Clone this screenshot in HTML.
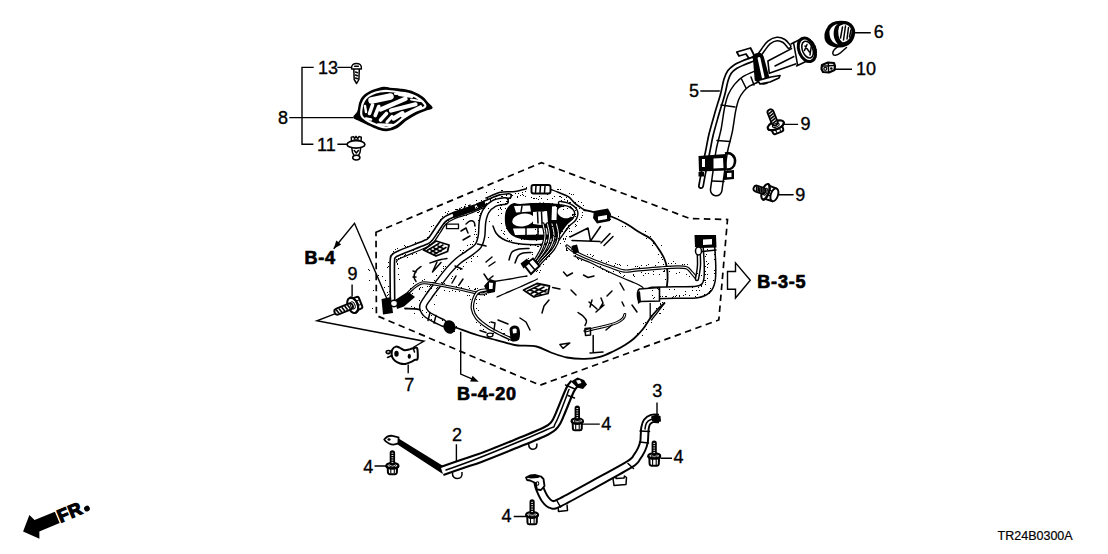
<!DOCTYPE html>
<html><head><meta charset="utf-8"><style>
html,body{margin:0;padding:0;background:#fff;width:1108px;height:554px;overflow:hidden}
svg{display:block}
.n{font:18px "Liberation Sans",sans-serif;fill:#000;stroke:#000;stroke-width:0.35}
.b{font:bold 18px "Liberation Sans",sans-serif;fill:#000;stroke:#000;stroke-width:0.7;letter-spacing:0.8px}
.s{font:12.5px "Liberation Sans",sans-serif;fill:#000;stroke:#000;stroke-width:0.2}
.fr{font:bold 18px "Liberation Sans",sans-serif;fill:#000;stroke:#000;stroke-width:1.3;letter-spacing:0.6px}
.l{fill:none;stroke:#000;stroke-width:1.4}
.d{fill:none;stroke:#000;stroke-width:1.7;stroke-dasharray:6.5 4.5}
.o{fill:none;stroke:#000;stroke-width:1.5;stroke-linejoin:round;stroke-linecap:round}
</style></head><body>
<svg width="1108" height="554" viewBox="0 0 1108 554">
<text x="318" y="73.5" class="n">13</text>
<text x="278" y="124" class="n">8</text>
<text x="317" y="150.5" class="n">11</text>
<text x="689" y="96.5" class="n">5</text>
<text x="873.7" y="38.2" class="n">6</text>
<text x="856" y="75" class="n">10</text>
<text x="800.5" y="130.2" class="n">9</text>
<text x="795.2" y="201.2" class="n">9</text>
<text x="347.6" y="279.5" class="n">9</text>
<text x="404.2" y="391.2" class="n">7</text>
<text x="652.3" y="396.7" class="n">3</text>
<text x="452" y="440.6" class="n">2</text>
<text x="601.2" y="429.9" class="n">4</text>
<text x="363.2" y="472.5" class="n">4</text>
<text x="673.4" y="463.1" class="n">4</text>
<text x="501.6" y="522.3" class="n">4</text>
<text x="304.5" y="263.6" class="b">B-4</text>
<text x="757.3" y="287.5" class="b">B-3-5</text>
<text x="457.1" y="399.7" class="b">B-4-20</text>
<text x="997.6" y="540.4" class="s">TR24B0300A</text>
<path d="M313.7,67.4 H302 V144.3 H313.4 M289.3,117.6 H353.3 M337.3,67.4 H351.4 M337.4,144.3 H347.4 M853.5,32.7 H870.8 M834,69.2 H852 M700.3,91 H719.8 M782.7,124.4 H798.1 M778.7,194.8 H793.6 M352.1,284.4 V296.3 M333.7,248.7 L354.5,223.3 L390,306 M334.8,313.8 L316.9,320.8 L424,341.2 L413.1,347.5 M408.2,364.4 V373.3 M460.7,331.7 V374.1 L476,380.6 M456.4,444.3 V463.8 M657,402.4 V415.4 M374.5,466 H387.5 M581,424.1 H599.8 M660.4,458.2 H672 M513.7,516.5 H526.1" class="l"/>
<path d="M333.7,248.7 L336.3,240.5 L341.2,244.5 Z" fill="#000"/>
<path d="M478.7,381.8 L470.1,381.6 L472.6,375.7 Z" fill="#000"/>
<path d="M376,232.2 L541.5,162.7 L689.8,218.5 L727.5,219.5 L718.8,320 L540,385.2 L376.4,315.5 Z" class="d"/>
<path d="M727.5,271.5 H735.5 V262.8 L750.3,280.3 L735.5,298 V289.3 H727.5 Z" fill="#fff" stroke="#000" stroke-width="1.4" stroke-linejoin="miter"/>
<g transform="translate(23.1,531.6) rotate(-22.6)"><path d="M0,0 L12.2,-13 L15,-6.2 L37,-6.2 L37,6.2 L15,6.2 L12.3,12.9 Z" fill="#000"/><text x="38" y="6.3" class="fr">FR</text><circle cx="67.8" cy="3.3" r="2.9" fill="#000"/></g>
<path d="M353.9,117.2 C353.9,115.9 356.9,114.2 357.9,111.8 C358.9,109.4 359.1,105.3 359.9,102.8 C360.7,100.3 361.2,98.7 362.9,96.9 C364.5,95.1 367.3,93.2 369.8,91.9 C372.3,90.6 375.5,89.7 377.8,88.9 C380.1,88.2 381.7,87.5 383.7,87.4 C385.7,87.3 386.9,88.1 389.7,88.4 C392.5,88.7 396.8,88.8 400.6,89.4 C404.4,90.0 408.9,90.6 412.5,91.9 C416.1,93.2 420.0,95.6 422.5,97.4 C425.0,99.2 425.8,101.1 427.4,102.8 C429.0,104.5 432.1,106.6 431.9,107.8 C431.7,109.0 429.0,108.8 426.4,109.8 C423.8,110.8 419.8,112.1 416.5,113.8 C413.2,115.5 409.9,117.4 406.6,119.7 C403.3,122.0 399.9,125.9 396.6,127.7 C393.3,129.5 389.8,130.4 386.7,130.6 C383.6,130.8 381.1,129.8 377.8,128.7 C374.5,127.5 370.1,125.2 366.8,123.7 C363.5,122.2 360.0,120.8 357.9,119.7 C355.8,118.6 353.9,118.5 353.9,117.2 Z" fill="#000" stroke="#000" stroke-width="1.5" stroke-linejoin="round"/>
<path d="M361.5,115.5 C360.6,112.7 361.8,106.9 362.5,104.0 C363.2,101.1 364.4,99.7 366.0,98.0 C367.6,96.3 369.7,95.1 372.0,94.0 C374.3,92.9 377.3,92.0 380.0,91.5 C382.7,91.0 384.7,90.8 388.0,91.0 C391.3,91.2 396.0,91.8 400.0,92.5 C404.0,93.2 408.7,93.8 412.0,95.0 C415.3,96.2 417.8,97.9 420.0,99.5 C422.2,101.1 424.3,103.2 425.0,104.5 C425.7,105.8 425.8,106.3 424.0,107.5 C422.2,108.7 417.3,109.8 414.0,111.5 C410.7,113.2 407.2,115.3 404.0,117.5 C400.8,119.7 397.9,122.8 395.0,124.5 C392.1,126.2 389.3,127.3 386.5,127.5 C383.7,127.7 381.1,126.6 378.0,125.5 C374.9,124.4 370.8,122.7 368.0,121.0 C365.2,119.3 362.4,118.3 361.5,115.5 Z" fill="none" stroke="#fff" stroke-width="2.2"/>
<path d="M371.5,100.5 L390.5,96.5" fill="none" stroke="#fff" stroke-width="6.5" stroke-linecap="round"/>
<path d="M380.5,109.5 L405.5,98.8" fill="none" stroke="#fff" stroke-width="4.4" stroke-linecap="round"/>
<path d="M391,110.5 L415.5,104.3" fill="none" stroke="#fff" stroke-width="4.2" stroke-linecap="round"/>
<path d="M393.5,118.5 L402.5,113.2" fill="none" stroke="#fff" stroke-width="4.4" stroke-linecap="round"/>
<path d="M402.5,116 L420.5,107" fill="none" stroke="#fff" stroke-width="3.6" stroke-linecap="round"/>
<path d="M369.5,113.5 L372.5,105" fill="none" stroke="#fff" stroke-width="3.6" stroke-linecap="round"/>
<path d="M375.2,115.5 L378.8,106.5" fill="none" stroke="#fff" stroke-width="3.6" stroke-linecap="round"/>
<path d="M380.5,120 L386.5,113.5" fill="none" stroke="#fff" stroke-width="3.6" stroke-linecap="round"/>
<path d="M387,122 L392,116.5" fill="none" stroke="#fff" stroke-width="3.2" stroke-linecap="round"/>
<path d="M366,118.5 L371,119.5" fill="none" stroke="#fff" stroke-width="2.6" stroke-linecap="round"/>
<path d="M399,94.5 L412,96.5" fill="none" stroke="#fff" stroke-width="2.8" stroke-linecap="round"/>
<path d="M378,124.5 L392,125" fill="none" stroke="#fff" stroke-width="2.4" stroke-linecap="round"/>
<path d="M395,93.8 L405,93.3" fill="none" stroke="#fff" stroke-width="2.2" stroke-linecap="round"/>
<path d="M365,106 L366,112" fill="none" stroke="#fff" stroke-width="2.4" stroke-linecap="round"/>
<path d="M411,99.5 L420,101" fill="none" stroke="#fff" stroke-width="2" stroke-linecap="round"/>
<path d="M351.6,69 C351,64.5 354,63.4 356.5,63.4 C359,63.4 362,64.5 361.4,69 Z" class="o" stroke-width="1.6" fill="#fff"/>
<path d="M354.6,66.3 L358.3,66.3" class="o" stroke-width="1.2"/>
<path d="M353.8,69.5 L354.2,79.5 L356.6,83.5 L358.9,79.5 L359.3,69.5" class="o" stroke-width="1.5"/>
<path d="M355.5,72 L357.5,72.8 M355.5,75 L357.5,75.8 M355.5,78 L357.5,78.8" class="o" stroke-width="1"/>
<path d="M351.5,141.5 L351.3,137.2 L353.5,136.6 L354.6,138.5 L356,136.4 L357.7,138.5 L359,136.6 L361.3,137.2 L361,141.5" class="o" stroke-width="1.6"/>
<ellipse cx="356" cy="144.4" rx="8.9" ry="3.7" fill="#fff" stroke="#000" stroke-width="1.7"/>
<path d="M351.8,148 L352.5,152.5 L354,155.5 L358.5,155.5 L360,152.5 L360.7,148" class="o" stroke-width="1.5"/>
<path d="M354.2,150.5 L356.3,153 L358.4,150.5" class="o" stroke-width="1.2"/>
<ellipse cx="356.3" cy="157.6" rx="3.6" ry="2.4" fill="#fff" stroke="#000" stroke-width="1.5"/>
<path d="M354,140 L358.6,140" class="o" stroke-width="1.1"/>
<g transform="translate(775.8,125.3) rotate(-22)"><path d="M-5.75,0 L-5.45,6.5 Q-5.25,8 -3.75,8 L3.75,8 Q5.25,8 5.45,6.5 L5.75,0 Z" fill="#fff" stroke="#000" stroke-width="2" stroke-linejoin="round"/><path d="M-1.9,3.2 V7.2 M2.3,3.2 V7.2" stroke="#000" stroke-width="1.1" fill="none"/><ellipse cx="0" cy="0" rx="8.6" ry="4" fill="#fff" stroke="#000" stroke-width="2.1"/><rect x="-3.0" y="-17" width="6" height="17" rx="3.0" fill="#fff" stroke="#000" stroke-width="1.9"/><path d="M-2.2,-13.2 L2.2,-14.6" stroke="#000" stroke-width="1.6"/><path d="M-2.2,-10.6 L2.2,-12.0" stroke="#000" stroke-width="1.6"/><path d="M-2.2,-8.0 L2.2,-9.4" stroke="#000" stroke-width="1.6"/><path d="M-2.2,-5.4 L2.2,-6.8" stroke="#000" stroke-width="1.6"/><path d="M-2.2,-2.8 L2.2,-4.2" stroke="#000" stroke-width="1.6"/><path d="M-8.6,0 A8.6,4 0 0 0 8.6,0" fill="none" stroke="#000" stroke-width="2.1"/><ellipse cx="0" cy="0" rx="3.6" ry="1.8" fill="none" stroke="#000" stroke-width="1"/></g>
<g transform="translate(765.5,191.8) rotate(-71)"><path d="M-7.0,0 L-6.7,9.0 Q-6.5,10.5 -5.0,10.5 L5.0,10.5 Q6.5,10.5 6.7,9.0 L7.0,0 Z" fill="#fff" stroke="#000" stroke-width="2" stroke-linejoin="round"/><path d="M-2.3,2.7 V9.7 M2.8,2.7 V9.7" stroke="#000" stroke-width="1.1" fill="none"/><ellipse cx="0" cy="0" rx="8.2" ry="3.4" fill="#fff" stroke="#000" stroke-width="2.1"/><rect x="-3.1" y="-12.5" width="6.2" height="12.5" rx="3.1" fill="#fff" stroke="#000" stroke-width="1.9"/><path d="M-2.3,-8.7 L2.3,-10.1" stroke="#000" stroke-width="1.6"/><path d="M-2.3,-7.0 L2.3,-8.4" stroke="#000" stroke-width="1.6"/><path d="M-2.3,-5.3 L2.3,-6.7" stroke="#000" stroke-width="1.6"/><path d="M-2.3,-3.6 L2.3,-5.0" stroke="#000" stroke-width="1.6"/><path d="M-2.3,-1.9 L2.3,-3.3" stroke="#000" stroke-width="1.6"/><path d="M-8.2,0 A8.2,3.4 0 0 0 8.2,0" fill="none" stroke="#000" stroke-width="2.1"/><ellipse cx="0" cy="0" rx="3.7" ry="1.5" fill="none" stroke="#000" stroke-width="1"/><ellipse cx="0" cy="9.4" rx="6.7" ry="3.6" fill="#fff" stroke="#000" stroke-width="1.9"/></g>
<g transform="translate(352.7,305.3) rotate(-112)"><path d="M-6.5,0 L-6.2,7.0 Q-6.0,8.5 -4.5,8.5 L4.5,8.5 Q6.0,8.5 6.2,7.0 L6.5,0 Z" fill="#fff" stroke="#000" stroke-width="2" stroke-linejoin="round"/><path d="M-2.2,4.0 V7.7 M2.6,4.0 V7.7" stroke="#000" stroke-width="1.1" fill="none"/><ellipse cx="0" cy="0" rx="8" ry="5" fill="#fff" stroke="#000" stroke-width="2.1"/><rect x="-3.1" y="-19.5" width="6.2" height="19.5" rx="3.1" fill="#fff" stroke="#000" stroke-width="1.9"/><path d="M-2.3,-15.7 L2.3,-17.1" stroke="#000" stroke-width="1.6"/><path d="M-2.3,-12.6 L2.3,-14.0" stroke="#000" stroke-width="1.6"/><path d="M-2.3,-9.5 L2.3,-10.9" stroke="#000" stroke-width="1.6"/><path d="M-2.3,-6.4 L2.3,-7.8" stroke="#000" stroke-width="1.6"/><path d="M-2.3,-3.3 L2.3,-4.7" stroke="#000" stroke-width="1.6"/><path d="M-8,0 A8,5 0 0 0 8,0" fill="none" stroke="#000" stroke-width="2.1"/><ellipse cx="0" cy="0" rx="3.7" ry="2.2" fill="none" stroke="#000" stroke-width="1"/></g>
<g transform="translate(392.4,465.7) rotate(0)"><path d="M-4.75,0 L-4.45,7.0 Q-4.25,8.5 -2.75,8.5 L2.75,8.5 Q4.25,8.5 4.45,7.0 L4.75,0 Z" fill="#fff" stroke="#000" stroke-width="2" stroke-linejoin="round"/><path d="M-1.6,2.2 V7.7 M1.9,2.2 V7.7" stroke="#000" stroke-width="1.1" fill="none"/><ellipse cx="0" cy="0" rx="6" ry="2.7" fill="#fff" stroke="#000" stroke-width="2.1"/><rect x="-2.7" y="-15.5" width="5.4" height="15.5" rx="2.7" fill="#000"/><path d="M-0.9,-12.5 H0.9" stroke="#fff" stroke-width="0.9"/><path d="M-0.9,-10.2 H0.9" stroke="#fff" stroke-width="0.9"/><path d="M-0.9,-7.9 H0.9" stroke="#fff" stroke-width="0.9"/><path d="M-0.9,-5.6 H0.9" stroke="#fff" stroke-width="0.9"/><path d="M-0.9,-3.3 H0.9" stroke="#fff" stroke-width="0.9"/><path d="M-6,0 A6,2.7 0 0 0 6,0" fill="none" stroke="#000" stroke-width="2.1"/><ellipse cx="0" cy="0" rx="3.3000000000000003" ry="1.2" fill="none" stroke="#000" stroke-width="1"/></g>
<g transform="translate(577.3,421) rotate(0)"><path d="M-4.7,0 L-4.4,7.800000000000001 Q-4.2,9.3 -2.7,9.3 L2.7,9.3 Q4.2,9.3 4.4,7.800000000000001 L4.7,0 Z" fill="#fff" stroke="#000" stroke-width="2" stroke-linejoin="round"/><path d="M-1.6,2.2 V8.5 M1.9,2.2 V8.5" stroke="#000" stroke-width="1.1" fill="none"/><ellipse cx="0" cy="0" rx="5.7" ry="2.7" fill="#fff" stroke="#000" stroke-width="2.1"/><rect x="-2.7" y="-15.5" width="5.4" height="15.5" rx="2.7" fill="#000"/><path d="M-0.9,-12.5 H0.9" stroke="#fff" stroke-width="0.9"/><path d="M-0.9,-10.2 H0.9" stroke="#fff" stroke-width="0.9"/><path d="M-0.9,-7.9 H0.9" stroke="#fff" stroke-width="0.9"/><path d="M-0.9,-5.6 H0.9" stroke="#fff" stroke-width="0.9"/><path d="M-0.9,-3.3 H0.9" stroke="#fff" stroke-width="0.9"/><path d="M-5.7,0 A5.7,2.7 0 0 0 5.7,0" fill="none" stroke="#000" stroke-width="2.1"/><ellipse cx="0" cy="0" rx="3.3000000000000003" ry="1.2" fill="none" stroke="#000" stroke-width="1"/></g>
<g transform="translate(654.2,455.9) rotate(0)"><path d="M-4.9,0 L-4.6000000000000005,8.3 Q-4.4,9.8 -2.9000000000000004,9.8 L2.9000000000000004,9.8 Q4.4,9.8 4.6000000000000005,8.3 L4.9,0 Z" fill="#fff" stroke="#000" stroke-width="2" stroke-linejoin="round"/><path d="M-1.6,2.1 V9.0 M2.0,2.1 V9.0" stroke="#000" stroke-width="1.1" fill="none"/><ellipse cx="0" cy="0" rx="6" ry="2.6" fill="#fff" stroke="#000" stroke-width="2.1"/><rect x="-2.6" y="-15.5" width="5.2" height="15.5" rx="2.6" fill="#000"/><path d="M-0.9,-12.5 H0.9" stroke="#fff" stroke-width="0.9"/><path d="M-0.9,-10.2 H0.9" stroke="#fff" stroke-width="0.9"/><path d="M-0.9,-7.9 H0.9" stroke="#fff" stroke-width="0.9"/><path d="M-0.9,-5.6 H0.9" stroke="#fff" stroke-width="0.9"/><path d="M-0.9,-3.3 H0.9" stroke="#fff" stroke-width="0.9"/><path d="M-6,0 A6,2.6 0 0 0 6,0" fill="none" stroke="#000" stroke-width="2.1"/><ellipse cx="0" cy="0" rx="3.2" ry="1.2" fill="none" stroke="#000" stroke-width="1"/></g>
<g transform="translate(532.1,514.8) rotate(0)"><path d="M-4.9,0 L-4.6000000000000005,8.0 Q-4.4,9.5 -2.9000000000000004,9.5 L2.9000000000000004,9.5 Q4.4,9.5 4.6000000000000005,8.0 L4.9,0 Z" fill="#fff" stroke="#000" stroke-width="2" stroke-linejoin="round"/><path d="M-1.6,2.2 V8.7 M2.0,2.2 V8.7" stroke="#000" stroke-width="1.1" fill="none"/><ellipse cx="0" cy="0" rx="6" ry="2.8" fill="#fff" stroke="#000" stroke-width="2.1"/><rect x="-2.6" y="-15.5" width="5.2" height="15.5" rx="2.6" fill="#000"/><path d="M-0.9,-12.5 H0.9" stroke="#fff" stroke-width="0.9"/><path d="M-0.9,-10.2 H0.9" stroke="#fff" stroke-width="0.9"/><path d="M-0.9,-7.9 H0.9" stroke="#fff" stroke-width="0.9"/><path d="M-0.9,-5.6 H0.9" stroke="#fff" stroke-width="0.9"/><path d="M-0.9,-3.3 H0.9" stroke="#fff" stroke-width="0.9"/><path d="M-6,0 A6,2.8 0 0 0 6,0" fill="none" stroke="#000" stroke-width="2.1"/><ellipse cx="0" cy="0" rx="3.2" ry="1.3" fill="none" stroke="#000" stroke-width="1"/></g>
<path d="M828,28 C831,22 838,21 845,22 C851,23 855,28 854,34 C853,41 848,46 840,46.5 C833,47 826,44 825.5,38 C825,34 826,31 828,28 Z" fill="#000" stroke="#000" stroke-width="2"/>
<path d="M829.5,31 C829,38 832,43 838,44.5 C834,40 833,35 834,30 C834.5,27 836,25 838,24 C834,24.5 831,27 829.5,31 Z" fill="#fff"/>
<path d="M838.5,26 C836.5,32 837.5,40 842.5,43 C848.5,43 852.5,37 852.2,31 C851.5,26 847.5,23 843.5,23.5 C841,24 839.5,24.8 838.5,26 Z" fill="#fff" stroke="#000" stroke-width="1.4"/>
<path d="M842.5,27 L840.5,38 M845.5,26 L843.5,40 M848.5,27.5 L847,39 M851,30 L849.5,37" class="o" stroke-width="1.5"/>
<path d="M839,46 C836,48 832.5,50 832.8,53.5 C833.2,56.5 837,55.5 840,53.2 L846.5,47.5" class="o" stroke-width="2.2"/>
<path d="M822,65 L828,62.5 L834,63 L835,66 L834.5,70 L829,72.5 L823,72 L821.5,69 Z" fill="#fff" stroke="#000" stroke-width="2.2" stroke-linejoin="round"/>
<path d="M828.3,63.5 L828.6,72 M822,66 L834.5,65.5" class="o" stroke-width="1.5"/>
<circle cx="825.3" cy="68.8" r="1.5" fill="none" stroke="#000" stroke-width="1.2"/><circle cx="831.3" cy="68.5" r="1.3" fill="#000"/>
<path d="M701.0,186.0 C701.5,183.3 702.8,176.0 704.0,170.0 C705.2,164.0 706.8,155.8 708.0,150.0 C709.2,144.2 709.6,140.8 711.0,135.0 C712.4,129.2 714.6,121.7 716.5,115.0 C718.4,108.3 720.9,100.8 722.5,95.0 C724.1,89.2 724.8,83.8 726.0,80.0 C727.2,76.2 728.0,74.2 729.5,72.0 C731.0,69.8 732.8,68.5 735.0,67.0 C737.2,65.5 740.2,64.2 743.0,63.0 C745.8,61.8 750.5,60.1 752.0,59.5" fill="none" stroke="#000" stroke-width="6" stroke-linecap="round" stroke-linejoin="round"/>
<path d="M701.0,186.0 C701.5,183.3 702.8,176.0 704.0,170.0 C705.2,164.0 706.8,155.8 708.0,150.0 C709.2,144.2 709.6,140.8 711.0,135.0 C712.4,129.2 714.6,121.7 716.5,115.0 C718.4,108.3 720.9,100.8 722.5,95.0 C724.1,89.2 724.8,83.8 726.0,80.0 C727.2,76.2 728.0,74.2 729.5,72.0 C731.0,69.8 732.8,68.5 735.0,67.0 C737.2,65.5 740.2,64.2 743.0,63.0 C745.8,61.8 750.5,60.1 752.0,59.5" fill="none" stroke="#fff" stroke-width="2.6" stroke-linecap="round" stroke-linejoin="round"/>
<path d="M716.2,190.0 C716.7,186.7 718.0,176.7 719.0,170.0 C720.0,163.3 720.7,156.7 722.0,150.0 C723.3,143.3 725.5,136.7 726.8,130.0 C728.1,123.3 728.9,115.5 730.0,110.0 C731.1,104.5 732.0,100.7 733.5,97.0 C735.0,93.3 736.9,90.6 739.0,88.0 C741.1,85.4 742.8,83.5 746.0,81.5 C749.2,79.5 756.0,76.9 758.0,76.0" fill="none" stroke="#000" stroke-width="13" stroke-linecap="round" stroke-linejoin="round"/>
<path d="M716.2,190.0 C716.7,186.7 718.0,176.7 719.0,170.0 C720.0,163.3 720.7,156.7 722.0,150.0 C723.3,143.3 725.5,136.7 726.8,130.0 C728.1,123.3 728.9,115.5 730.0,110.0 C731.1,104.5 732.0,100.7 733.5,97.0 C735.0,93.3 736.9,90.6 739.0,88.0 C741.1,85.4 742.8,83.5 746.0,81.5 C749.2,79.5 756.0,76.9 758.0,76.0" fill="none" stroke="#fff" stroke-width="10" stroke-linecap="round" stroke-linejoin="round"/>
<path d="M721,105 L735,107 M717,140.5 L730,141.5 M712,181 L724,181.5 M741.5,79 L746,88 M751,77 L754,85" class="o" stroke-width="1.3"/>
<path d="M767.9,61 L799.6,44.4 L804,61 L769.3,73.3 Z" fill="#fff" stroke="#000" stroke-width="1.6" stroke-linejoin="round"/>
<path d="M775,66 L801,53" class="o" stroke-width="1.2"/>
<path d="M791,44 L801,38.5 L811,60 L797,66 Z" fill="#fff" stroke="none"/>
<path d="M791,44 L801,39 M796.5,66 L808,60.5 M793.5,42.5 L797.5,64.5" class="o" stroke-width="1.6"/>
<ellipse cx="806.9" cy="49.8" rx="8" ry="12.2" transform="rotate(-22 806.9 49.8)" fill="#fff" stroke="#000" stroke-width="3"/>
<ellipse cx="807.6" cy="49.6" rx="5.2" ry="8.8" transform="rotate(-22 807.6 49.6)" fill="#fff" stroke="#000" stroke-width="1.6"/>
<path d="M805,46 L809.5,52 M807,44.5 L804.5,50.5 M811.5,45 L810,55" class="o" stroke-width="1.3"/>
<ellipse cx="807.2" cy="49.8" rx="8.6" ry="12.6" transform="rotate(-22 807.2 49.8)" fill="none" stroke="#000" stroke-width="1.2" stroke-dasharray="1.5 1"/>
<path d="M758.0,57.0 C758.8,55.8 761.2,52.4 763.0,50.0 C764.8,47.6 766.7,44.3 769.0,42.5 C771.3,40.7 774.5,39.2 777.0,39.0 C779.5,38.8 782.0,39.8 784.0,41.0 C786.0,42.2 788.2,45.6 789.0,46.5" fill="none" stroke="#000" stroke-width="5" stroke-linecap="round" stroke-linejoin="round"/>
<path d="M758.0,57.0 C758.8,55.8 761.2,52.4 763.0,50.0 C764.8,47.6 766.7,44.3 769.0,42.5 C771.3,40.7 774.5,39.2 777.0,39.0 C779.5,38.8 782.0,39.8 784.0,41.0 C786.0,42.2 788.2,45.6 789.0,46.5" fill="none" stroke="#fff" stroke-width="2" stroke-linecap="round" stroke-linejoin="round"/>
<path d="M736.8,52 L750.5,48 L754.5,56 L749,58.5 L746,54 L739,56 Z" fill="#fff" stroke="#000" stroke-width="1.8" stroke-linejoin="round"/>
<path d="M753.5,56 C756.5,52.5 761.5,52.5 763,57 L769,79 C769,83.5 764.5,84.5 761,83.5 L755.5,80 Z" fill="#000" stroke="#000" stroke-width="1.6"/>
<path d="M757.5,58 C758.5,56.5 760,56.5 760.5,58.5 L764.5,77 C764.5,79 763,79.5 762,78.5 Z" fill="#fff"/>
<path d="M757.8,80.5 L771,77 L780,75.5 L779,78 L770,82 L760,84 Z" fill="#fff" stroke="#000" stroke-width="1.7" stroke-linejoin="round"/>
<path d="M698.5,156 L726,154 L727,170.5 L699,171.5 Z" fill="#000"/>
<path d="M713.5,158.5 L723,158 L723.5,168 L713.5,168.5 Z" fill="#fff"/>
<path d="M702,159 L705,159 L705,167 L702,167 Z" fill="#fff"/>
<path d="M725,153.5 C731,152 735.5,156 735,162 C734.5,167 731,169.5 727,169.5" fill="none" stroke="#000" stroke-width="2.6"/>
<path d="M724,171 L734,170 L734,179 L724,180 Z" fill="#000"/>
<path d="M727,173 L731.5,172.8 L731.5,177 L727,177.2 Z" fill="#fff"/>
<path d="M698.5,172 L704,172 L704,176.5 L698.5,176.5 Z" fill="#000"/>
<path d="M392.3,349.5 C393.0,348.3 394.7,346.9 395.9,346.6 C397.1,346.3 398.1,347.0 399.5,347.6 C400.9,348.2 402.8,349.9 404.6,350.2 C406.4,350.4 408.7,349.5 410.3,349.1 C411.9,348.7 412.9,348.1 414.0,348.0 C415.1,347.9 416.6,346.6 417.2,348.4 C417.8,350.2 418.0,356.9 417.6,358.8 C417.2,360.7 415.7,359.4 414.7,359.9 C413.7,360.4 413.4,361.0 411.8,361.7 C410.2,362.4 407.2,363.6 405.3,363.9 C403.4,364.2 401.9,364.0 400.2,363.5 C398.5,363.0 396.5,362.0 395.2,361.0 C393.9,360.0 392.9,358.6 392.3,357.4 C391.7,356.2 391.6,355.1 391.6,353.8 C391.6,352.5 391.6,350.7 392.3,349.5 Z" fill="#fff" stroke="#000" stroke-width="2" stroke-linejoin="round"/>
<ellipse cx="396.5" cy="353.8" rx="2.2" ry="3" fill="#000"/><ellipse cx="409.3" cy="356.3" rx="1.6" ry="2.5" fill="#000"/>
<path d="M391.5,351.5 C388,349.5 385,351 386.5,353 C388,354.5 391,353 390,352 M392,355.5 L387.5,357.5" class="o" stroke-width="1.4"/>
<path d="M413.5,349 L414.5,352" class="o" stroke-width="1.5"/>
<path d="M397,437.5 L444,466.5 L447,474.5 L442,473.5 L396,443.5 Z" fill="#000"/>
<path d="M384.3,439.6 C386,437 389,435.5 392.5,435.8 L398.5,437.5 L398.5,443 C396,444.5 392,445 389,443.5 C387,442.5 385,441 384.3,439.6 Z" fill="#fff" stroke="#000" stroke-width="1.8"/>
<ellipse cx="389" cy="439.5" rx="1.6" ry="1.3" fill="#000"/>
<path d="M452.5,472.5 C452,477 455,478.5 457.5,478.5 C460.5,478.5 462.5,477 462,472" fill="#fff" stroke="#000" stroke-width="1.5"/>
<path d="M528.7,444 C528.5,448 531,449.3 533,449.3 C535.5,449.3 537.2,448 536.9,443.5" fill="#fff" stroke="#000" stroke-width="1.5"/>
<path d="M442.0,471.0 C445.3,469.8 455.7,466.2 462.0,464.0 C468.3,461.8 471.3,461.2 480.0,458.0 C488.7,454.8 503.0,449.0 514.0,444.5 C525.0,440.0 539.2,434.4 546.0,431.0 C552.8,427.6 552.7,426.8 555.0,424.0 C557.3,421.2 557.5,419.7 560.0,414.0 C562.5,408.3 567.5,395.2 570.0,390.0 C572.5,384.8 574.2,384.2 575.0,383.0" fill="none" stroke="#000" stroke-width="10.5" stroke-linecap="butt" stroke-linejoin="round"/>
<path d="M442.0,471.0 C445.3,469.8 455.7,466.2 462.0,464.0 C468.3,461.8 471.3,461.2 480.0,458.0 C488.7,454.8 503.0,449.0 514.0,444.5 C525.0,440.0 539.2,434.4 546.0,431.0 C552.8,427.6 552.7,426.8 555.0,424.0 C557.3,421.2 557.5,419.7 560.0,414.0 C562.5,408.3 567.5,395.2 570.0,390.0 C572.5,384.8 574.2,384.2 575.0,383.0" fill="none" stroke="#fff" stroke-width="6.2" stroke-linecap="butt" stroke-linejoin="round"/>
<path d="M446.0,470.0 C451.7,467.9 463.3,464.2 480.0,457.5 C496.7,450.8 533.4,435.8 546.0,430.0 C558.6,424.2 551.7,429.8 555.5,423.0 C559.3,416.2 566.8,395.1 569.0,389.5" class="o" stroke-width="1.3"/>
<path d="M565.5,385 L575,389 M568,395.5 L574.5,398" class="o" stroke-width="1.3"/>
<path d="M571,381.5 L577.5,377.5 L584,380 L587,384.5 L583,389 L577,387.5 Z" fill="#000"/>
<path d="M576,380.5 L580,380 L581.5,383 L578,384 Z" fill="#fff"/>
<path d="M612.9,477.5 L616,476 L616,478.5 L624,478 L624.5,476 L626.5,477.5 L626,484.5 L614,485.5 Z" fill="#fff" stroke="#000" stroke-width="1.5" stroke-linejoin="round"/>
<path d="M558,505 L558.5,511.5 L567.5,510.5 L567,504.5" fill="#fff" stroke="#000" stroke-width="1.5" stroke-linejoin="round"/>
<path d="M659.0,418.5 C657.8,418.5 654.0,417.9 652.0,418.5 C650.0,419.1 648.2,420.4 647.0,422.0 C645.8,423.6 645.4,425.8 645.0,428.0 C644.6,430.2 644.7,432.7 644.5,435.0 C644.3,437.3 644.5,439.6 644.0,442.0 C643.5,444.4 642.7,447.0 641.5,449.5 C640.3,452.0 638.9,454.6 637.0,457.0 C635.1,459.4 636.8,459.7 630.0,464.0 C623.2,468.3 607.7,476.6 596.0,483.0 C584.3,489.4 567.4,498.9 560.0,502.5 C552.6,506.1 554.0,505.1 551.5,504.5 C549.0,503.9 546.9,501.6 545.0,499.0 C543.1,496.4 541.2,491.9 540.0,489.0 C538.8,486.1 538.3,482.8 538.0,481.5" fill="none" stroke="#000" stroke-width="9.5" stroke-linecap="butt" stroke-linejoin="round"/>
<path d="M659.0,418.5 C657.8,418.5 654.0,417.9 652.0,418.5 C650.0,419.1 648.2,420.4 647.0,422.0 C645.8,423.6 645.4,425.8 645.0,428.0 C644.6,430.2 644.7,432.7 644.5,435.0 C644.3,437.3 644.5,439.6 644.0,442.0 C643.5,444.4 642.7,447.0 641.5,449.5 C640.3,452.0 638.9,454.6 637.0,457.0 C635.1,459.4 636.8,459.7 630.0,464.0 C623.2,468.3 607.7,476.6 596.0,483.0 C584.3,489.4 567.4,498.9 560.0,502.5 C552.6,506.1 554.0,505.1 551.5,504.5 C549.0,503.9 546.9,501.6 545.0,499.0 C543.1,496.4 541.2,491.9 540.0,489.0 C538.8,486.1 538.3,482.8 538.0,481.5" fill="none" stroke="#fff" stroke-width="5.6" stroke-linecap="butt" stroke-linejoin="round"/>
<path d="M628,463.5 L633.5,468.5 M640,431 L649.5,431.5 M639.5,442 L648.5,443 M556.5,500 L560.5,507" class="o" stroke-width="1.3"/>
<path d="M645.0,429.0 C645.2,428.0 645.5,424.6 646.5,423.0 C647.5,421.4 649.2,420.2 651.0,419.5 C652.8,418.8 656.0,418.7 657.0,418.5" class="o" stroke-width="1.2"/>
<path d="M651,416.5 L656,414.8 L660.5,416 L661,421.5 L656,422.5 L652,421 Z" fill="#000"/>
<path d="M526,477.5 L530,475.5 L535.5,475 L541,476.5 L543.5,479 L544.5,486 L541,490 L537,489.5 L535.5,483 L530,480.5 L527,480 Z" fill="#fff" stroke="#000" stroke-width="1.8" stroke-linejoin="round"/>
<path d="M526,477.5 L530,475.5 L535.5,475 L541,476.5 L538,478 L531,478.5 Z" fill="#000"/>
<ellipse cx="537.5" cy="483.5" rx="1.3" ry="1.8" fill="none" stroke="#000" stroke-width="1.1"/>
<path d="M392.0,305.0 C389.7,296.6 390.0,266.8 391.0,258.0 C392.0,249.2 392.5,254.8 398.0,252.0 C403.5,249.2 417.5,244.8 424.0,241.0 C430.5,237.2 433.7,232.7 437.0,229.0 C440.3,225.3 441.5,221.5 444.0,219.0 C446.5,216.5 447.7,215.8 452.0,214.0 C456.3,212.2 463.3,210.5 470.0,208.0 C476.7,205.5 487.0,201.5 492.0,199.0 C497.0,196.5 496.2,194.2 500.0,193.0 C503.8,191.8 510.3,192.3 515.0,191.5 C519.7,190.7 522.2,188.6 528.0,188.0 C533.8,187.4 545.0,187.3 550.0,188.0 C555.0,188.7 555.0,190.6 558.0,192.0 C561.0,193.4 565.0,194.7 568.0,196.7 C571.0,198.7 573.2,201.8 576.0,204.0 C578.8,206.2 581.3,208.7 585.0,210.0 C588.7,211.3 593.8,211.0 598.0,212.0 C602.2,213.0 605.5,214.2 610.0,216.0 C614.5,217.8 620.2,220.3 625.0,223.0 C629.8,225.7 634.7,229.3 639.0,232.0 C643.3,234.7 647.8,236.3 651.0,239.0 C654.2,241.7 655.8,244.8 658.0,248.0 C660.2,251.2 662.5,254.7 664.0,258.0 C665.5,261.3 666.4,264.3 667.0,268.0 C667.6,271.7 667.7,275.8 667.5,280.0 C667.3,284.2 666.6,289.2 666.0,293.0 C665.4,296.8 666.0,299.2 664.0,303.0 C662.0,306.8 656.9,312.3 654.0,316.0 C651.1,319.7 649.8,321.2 646.5,325.0 C643.2,328.8 637.6,335.2 634.0,338.5 C630.4,341.8 628.5,342.8 625.0,345.0 C621.5,347.2 617.2,349.5 613.0,351.5 C608.8,353.5 604.7,355.6 600.0,356.8 C595.3,358.0 590.5,358.7 585.0,358.8 C579.5,358.9 572.7,358.6 567.0,357.5 C561.3,356.4 556.1,354.4 551.0,352.5 C545.9,350.6 542.0,347.4 536.5,346.2 C531.0,345.0 522.8,346.0 518.0,345.5 C513.2,345.0 512.3,344.4 508.0,343.3 C503.7,342.2 497.2,340.4 492.0,339.0 C486.8,337.6 482.8,336.8 477.0,335.0 C471.2,333.2 463.2,330.2 457.0,328.0 C450.8,325.8 444.8,324.0 440.0,322.0 C435.2,320.0 431.5,318.1 428.0,316.0 C424.5,313.9 422.8,310.8 419.0,309.5 C415.2,308.2 409.5,309.2 405.0,308.5 C400.5,307.8 394.3,313.4 392.0,305.0 Z" fill="#fff" stroke="none"/>
<path d="M584.0,210.0 C586.3,210.5 593.7,212.0 598.0,213.0 C602.3,214.0 605.5,214.3 610.0,216.0 C614.5,217.7 620.2,220.3 625.0,223.0 C629.8,225.7 634.7,229.3 639.0,232.0 C643.3,234.7 647.8,236.3 651.0,239.0 C654.2,241.7 655.8,244.8 658.0,248.0 C660.2,251.2 662.5,254.7 664.0,258.0 C665.5,261.3 666.4,264.3 667.0,268.0 C667.6,271.7 667.7,275.8 667.5,280.0 C667.3,284.2 666.2,290.8 666.0,293.0" stroke="#000" fill="none" stroke-linejoin="round" stroke-linecap="round" stroke-width="1.8"/>
<path d="M664.5,303.0 C663.2,304.2 659.4,307.4 657.0,310.0 C654.6,312.6 652.3,315.3 650.0,318.5 C647.7,321.7 645.7,325.7 643.0,329.0 C640.3,332.3 637.0,335.8 634.0,338.5 C631.0,341.2 628.5,342.8 625.0,345.0 C621.5,347.2 617.2,349.5 613.0,351.5 C608.8,353.5 604.7,355.6 600.0,356.8 C595.3,358.0 590.5,358.7 585.0,358.8 C579.5,358.9 572.7,358.6 567.0,357.5 C561.3,356.4 556.1,354.3 551.0,352.5 C545.9,350.7 542.0,347.7 536.5,346.5 C531.0,345.3 522.8,346.0 518.0,345.5 C513.2,345.0 512.3,344.4 508.0,343.3 C503.7,342.2 497.2,340.4 492.0,339.0 C486.8,337.6 482.8,336.8 477.0,335.0 C471.2,333.2 463.2,330.2 457.0,328.0 C450.8,325.8 444.8,324.0 440.0,322.0 C435.2,320.0 431.5,318.1 428.0,316.0 C424.5,313.9 422.8,310.8 419.0,309.5 C415.2,308.2 407.3,308.7 405.0,308.5" stroke="#000" fill="none" stroke-linejoin="round" stroke-linecap="round" stroke-width="1.8"/>
<path d="M486.0,198.0 C488.4,197.1 495.6,193.4 500.4,192.3 C505.2,191.2 510.6,192.2 514.9,191.6 C519.2,191.0 524.5,189.2 526.4,188.7" stroke="#000" fill="none" stroke-linejoin="round" stroke-linecap="round" stroke-width="1.5"/>
<path d="M549.5,189.0 C551.0,189.6 555.1,191.0 558.2,192.3 C561.3,193.6 565.4,194.8 568.3,196.7 C571.2,198.6 572.9,201.7 575.5,203.9 C578.1,206.1 582.8,208.7 584.2,209.7" stroke="#000" fill="none" stroke-linejoin="round" stroke-linecap="round" stroke-width="1.5"/>
<path d="M392.5,300.0 C392.5,293.7 392.1,269.3 392.3,262.0 C392.6,254.7 392.9,257.5 394.0,256.0 C395.1,254.5 394.0,255.2 399.0,253.0 C404.0,250.8 418.8,245.2 424.0,243.0 C429.2,240.8 427.8,241.8 430.0,239.5 C432.2,237.2 434.7,232.8 437.0,229.5 C439.3,226.2 441.5,222.3 444.0,220.0 C446.5,217.7 447.7,217.2 452.0,215.5 C456.3,213.8 463.7,211.9 470.0,209.5 C476.3,207.1 485.0,203.1 490.0,201.0 C495.0,198.9 496.8,197.8 500.0,197.0 C503.2,196.2 507.5,196.2 509.0,196.0" fill="none" stroke="#000" stroke-width="6" stroke-linecap="round" stroke-linejoin="round"/>
<path d="M392.5,300.0 C392.5,293.7 392.1,269.3 392.3,262.0 C392.6,254.7 392.9,257.5 394.0,256.0 C395.1,254.5 394.0,255.2 399.0,253.0 C404.0,250.8 418.8,245.2 424.0,243.0 C429.2,240.8 427.8,241.8 430.0,239.5 C432.2,237.2 434.7,232.8 437.0,229.5 C439.3,226.2 441.5,222.3 444.0,220.0 C446.5,217.7 447.7,217.2 452.0,215.5 C456.3,213.8 463.7,211.9 470.0,209.5 C476.3,207.1 485.0,203.1 490.0,201.0 C495.0,198.9 496.8,197.8 500.0,197.0 C503.2,196.2 507.5,196.2 509.0,196.0" fill="none" stroke="#fff" stroke-width="2.8" stroke-linecap="round" stroke-linejoin="round"/>
<path d="M396.5,262.0 C397.1,261.4 395.2,260.8 400.0,258.5 C404.8,256.2 419.5,250.6 425.0,248.0 C430.5,245.4 430.5,245.5 433.0,243.0 C435.5,240.5 437.8,236.2 440.0,233.0 C442.2,229.8 443.7,226.3 446.0,224.0 C448.3,221.7 450.0,220.8 454.0,219.0 C458.0,217.2 464.3,215.7 470.0,213.5 C475.7,211.3 485.0,207.2 488.0,206.0" stroke="#000" fill="none" stroke-linejoin="round" stroke-linecap="round" stroke-width="1.3"/>
<path d="M505.0,201.0 C503.2,201.4 497.2,201.8 494.0,203.5 C490.8,205.2 487.9,207.9 486.0,211.0 C484.1,214.1 483.2,217.8 482.5,222.0 C481.8,226.2 482.2,232.0 481.5,236.0 C480.8,240.0 480.2,243.0 478.0,246.0 C475.8,249.0 471.3,251.5 468.0,254.0 C464.7,256.5 461.2,258.3 458.0,261.0 C454.8,263.7 452.3,266.2 449.0,270.0 C445.7,273.8 441.3,279.7 438.0,284.0 C434.7,288.3 431.5,292.3 429.0,296.0 C426.5,299.7 423.5,303.1 423.0,306.0 C422.5,308.9 424.2,311.4 426.0,313.5 C427.8,315.6 431.2,316.9 434.0,318.5 C436.8,320.1 441.5,322.2 443.0,323.0" fill="none" stroke="#000" stroke-width="8" stroke-linecap="round" stroke-linejoin="round"/>
<path d="M505.0,201.0 C503.2,201.4 497.2,201.8 494.0,203.5 C490.8,205.2 487.9,207.9 486.0,211.0 C484.1,214.1 483.2,217.8 482.5,222.0 C481.8,226.2 482.2,232.0 481.5,236.0 C480.8,240.0 480.2,243.0 478.0,246.0 C475.8,249.0 471.3,251.5 468.0,254.0 C464.7,256.5 461.2,258.3 458.0,261.0 C454.8,263.7 452.3,266.2 449.0,270.0 C445.7,273.8 441.3,279.7 438.0,284.0 C434.7,288.3 431.5,292.3 429.0,296.0 C426.5,299.7 423.5,303.1 423.0,306.0 C422.5,308.9 424.2,311.4 426.0,313.5 C427.8,315.6 431.2,316.9 434.0,318.5 C436.8,320.1 441.5,322.2 443.0,323.0" fill="none" stroke="#fff" stroke-width="5" stroke-linecap="round" stroke-linejoin="round"/>
<path d="M477.5,244 L486,246 M455,266 L462,269" class="o" stroke-width="1.3"/>
<path d="M423.5,250 L436,241 L449,245 L447.5,251.5 L436,256 Z" fill="#fff" stroke="#000" stroke-width="1.8" stroke-linejoin="round"/>
<path d="M427,250.5 L439,243.5 M430.5,252.5 L443,245 M434,254.5 L446,247.5 M438,246 L444,249 M434,248 L441,251.5 M431,250 L437,253.5" class="o" stroke-width="1.3"/>
<path d="M446.5,224.2 L458.5,224.2 L458.5,228.6 L446.5,228.6 Z" fill="#fff" stroke="#000" stroke-width="1.3"/>
<path d="M381.5,299 L391,297 L393,313 L383,314.5 Z" fill="#000"/>
<path d="M395,300 L408,291.5 L415,297 L404,306.5 L397,309 Z" fill="#000"/>
<path d="M398,303 L407,295.5 M401,305.5 L410,298" class="o" stroke="#fff" stroke-width="1"/>
<ellipse cx="394" cy="303.5" rx="3.6" ry="3.2" fill="#fff" stroke="#000" stroke-width="1.6"/>
<path d="M430,312.5 L428,320.5 M436,315.5 L434,323" class="o" stroke-width="1.3"/>
<ellipse cx="449.5" cy="327" rx="6" ry="6.8" transform="rotate(-20 449.5 327)" fill="#000"/>
<path d="M447,323 L449,330 M451,322.5 L452.5,328" class="o" stroke="#fff" stroke-width="1"/>
<path d="M409.0,292.0 C410.2,291.0 413.8,287.5 416.0,286.0 C418.2,284.5 419.5,283.4 422.0,283.0 C424.5,282.6 425.5,282.7 431.0,283.5 C436.5,284.3 447.3,286.4 455.0,288.0 C462.7,289.6 472.2,292.1 477.0,293.0 C481.8,293.9 482.0,294.0 484.0,293.5 C486.0,293.0 488.2,290.6 489.0,290.0" fill="none" stroke="#000" stroke-width="3" stroke-linecap="round" stroke-linejoin="round"/>
<path d="M409.0,292.0 C410.2,291.0 413.8,287.5 416.0,286.0 C418.2,284.5 419.5,283.4 422.0,283.0 C424.5,282.6 425.5,282.7 431.0,283.5 C436.5,284.3 447.3,286.4 455.0,288.0 C462.7,289.6 472.2,292.1 477.0,293.0 C481.8,293.9 482.0,294.0 484.0,293.5 C486.0,293.0 488.2,290.6 489.0,290.0" fill="none" stroke="#fff" stroke-width="0.9" stroke-linecap="round" stroke-linejoin="round"/>
<path d="M484,286 L490,279 L496,281 L495,292 L488,293.5 Z" fill="#000"/>
<path d="M489,282.5 L493,283 L492.5,289 L489,289 Z" fill="#fff"/>
<path d="M486.0,290.0 C484.7,290.3 480.1,290.3 478.0,292.0 C475.9,293.7 474.4,297.2 473.5,300.0 C472.6,302.8 472.0,306.0 472.5,309.0 C473.0,312.0 474.2,315.0 476.7,318.0 C479.2,321.0 483.6,324.3 487.6,327.0 C491.7,329.7 496.8,332.2 501.0,334.3 C505.2,336.4 510.8,338.8 512.8,339.7" fill="none" stroke="#000" stroke-width="3.6" stroke-linecap="round" stroke-linejoin="round"/>
<path d="M486.0,290.0 C484.7,290.3 480.1,290.3 478.0,292.0 C475.9,293.7 474.4,297.2 473.5,300.0 C472.6,302.8 472.0,306.0 472.5,309.0 C473.0,312.0 474.2,315.0 476.7,318.0 C479.2,321.0 483.6,324.3 487.6,327.0 C491.7,329.7 496.8,332.2 501.0,334.3 C505.2,336.4 510.8,338.8 512.8,339.7" fill="none" stroke="#fff" stroke-width="1.2" stroke-linecap="round" stroke-linejoin="round"/>
<path d="M509.5,329 C510.5,325.5 515,324.5 518,326.5 C520.5,328.5 520.5,336 519,339.5 C517,342 512,342 510.5,339.5 Z" fill="#000"/>
<path d="M512.5,329.5 C513.5,328 516,328 516.8,329.5 L516.5,333 L513,333.5 Z" fill="#fff"/>
<path d="M513,336 L516.5,335.5" class="o" stroke="#fff" stroke-width="1.1"/>
<ellipse cx="490" cy="335" rx="3" ry="1.8" fill="#fff" stroke="#000" stroke-width="1.3"/>
<path d="M480,330.5 L486,332.5 M491,322 L495,323 L494,330" class="o" stroke-width="1.2"/>
<path d="M505.0,215.0 C505.3,211.7 506.5,209.0 508.0,207.0 C509.5,205.0 511.2,203.8 514.0,203.0 C516.8,202.2 520.7,202.5 525.0,202.5 C529.3,202.5 534.8,202.8 540.0,203.0 C545.2,203.2 551.7,202.8 556.0,203.5 C560.3,204.2 563.5,205.6 566.0,207.5 C568.5,209.4 570.5,211.8 571.0,215.0 C571.5,218.2 570.7,223.7 569.0,227.0 C567.3,230.3 564.7,232.9 561.0,235.0 C557.3,237.1 552.7,238.7 547.0,239.5 C541.3,240.3 532.7,240.6 527.0,240.0 C521.3,239.4 516.5,238.2 513.0,236.0 C509.5,233.8 507.3,230.5 506.0,227.0 C504.7,223.5 504.7,218.3 505.0,215.0 Z" fill="#000"/>
<path d="M512,200 C516,195 524,193 531,193 L551,193 C558,194 565,197 569,202 C562,203 556,204 549,203 C540,202.5 530,203 520,204 C516,204 513,202.5 512,200 Z" fill="#fff"/>
<ellipse cx="523" cy="220" rx="11" ry="6.3" transform="rotate(-10 523 220)" fill="#fff"/>
<path d="M533,212 L547,211 L548,223 L541,225 L533,224 Z" fill="#fff"/>
<ellipse cx="565" cy="212.5" rx="7.5" ry="5.6" transform="rotate(15 565 212.5)" fill="#fff"/>
<path d="M513,228.5 L550,228 L548.5,234.5 L515,235 Z" fill="#fff"/>
<path d="M514,206 L530,205.5 L531,211.5 L516,212.5 Z M552,206.5 L557,206 L556.5,220 L551.5,220 Z" fill="#fff"/>
<path d="M537.5,212 L538,223 M541.5,212 L542,223 M526,228 L526,235 M538,228 L538,235 M522,206 L521,212" class="o" stroke-width="1.3"/>
<path d="M540,203 L541,211 M543.5,203 L543,211" class="o" stroke="#fff" stroke-width="1.1"/>
<path d="M493.0,226.0 C493.5,227.2 494.5,230.9 496.0,233.0 C497.5,235.1 499.3,236.9 502.0,238.5 C504.7,240.1 507.7,241.5 512.0,242.5 C516.3,243.5 522.5,244.2 528.0,244.5 C533.5,244.8 540.0,244.6 545.0,244.0 C550.0,243.4 555.8,241.5 558.0,241.0" class="o" stroke-width="1.4"/>
<rect x="531.5" y="185" width="19" height="8.5" rx="2" fill="#fff" stroke="#000" stroke-width="1.9"/>
<path d="M536,186 L535.5,192.5 M540.5,186 L540,192.5 M545,186 L544.5,192.5" class="o" stroke-width="1.6"/>
<path d="M560.0,203.0 C561.7,203.4 567.3,204.1 570.0,205.5 C572.7,206.9 575.2,209.2 576.0,211.5 C576.8,213.8 575.8,216.8 574.5,219.0 C573.2,221.2 570.4,222.2 568.0,225.0 C565.6,227.8 562.5,232.5 560.0,236.0 C557.5,239.5 555.0,243.3 553.0,246.0 C551.0,248.7 548.8,251.0 548.0,252.0" fill="none" stroke="#000" stroke-width="4.6" stroke-linecap="round" stroke-linejoin="round"/>
<path d="M560.0,203.0 C561.7,203.4 567.3,204.1 570.0,205.5 C572.7,206.9 575.2,209.2 576.0,211.5 C576.8,213.8 575.8,216.8 574.5,219.0 C573.2,221.2 570.4,222.2 568.0,225.0 C565.6,227.8 562.5,232.5 560.0,236.0 C557.5,239.5 555.0,243.3 553.0,246.0 C551.0,248.7 548.8,251.0 548.0,252.0" fill="none" stroke="#fff" stroke-width="1.8" stroke-linecap="round" stroke-linejoin="round"/>
<path d="M543.0,224.0 C543.3,226.0 545.2,232.0 545.0,236.0 C544.8,240.0 543.5,244.2 542.0,248.0 C540.5,251.8 538.0,255.8 536.0,259.0 C534.0,262.2 531.0,265.7 530.0,267.0" fill="none" stroke="#000" stroke-width="3.3" stroke-linecap="round" stroke-linejoin="round"/>
<path d="M543.0,224.0 C543.3,226.0 545.2,232.0 545.0,236.0 C544.8,240.0 543.5,244.2 542.0,248.0 C540.5,251.8 538.0,255.8 536.0,259.0 C534.0,262.2 531.0,265.7 530.0,267.0" fill="none" stroke="#fff" stroke-width="1.0" stroke-linecap="round" stroke-linejoin="round"/>
<path d="M547.5,224.0 C547.8,226.0 549.7,232.0 549.5,236.0 C549.3,240.0 547.8,244.2 546.0,248.0 C544.2,251.8 541.0,255.8 538.7,259.0 C536.4,262.2 533.3,265.7 532.2,267.0" fill="none" stroke="#000" stroke-width="3.3" stroke-linecap="round" stroke-linejoin="round"/>
<path d="M547.5,224.0 C547.8,226.0 549.7,232.0 549.5,236.0 C549.3,240.0 547.8,244.2 546.0,248.0 C544.2,251.8 541.0,255.8 538.7,259.0 C536.4,262.2 533.3,265.7 532.2,267.0" fill="none" stroke="#fff" stroke-width="1.0" stroke-linecap="round" stroke-linejoin="round"/>
<path d="M552.0,224.0 C552.3,226.0 554.3,232.0 554.0,236.0 C553.7,240.0 552.2,244.2 550.1,248.0 C548.0,251.8 544.0,255.8 541.4,259.0 C538.8,262.2 535.6,265.7 534.5,267.0" fill="none" stroke="#000" stroke-width="3.3" stroke-linecap="round" stroke-linejoin="round"/>
<path d="M552.0,224.0 C552.3,226.0 554.3,232.0 554.0,236.0 C553.7,240.0 552.2,244.2 550.1,248.0 C548.0,251.8 544.0,255.8 541.4,259.0 C538.8,262.2 535.6,265.7 534.5,267.0" fill="none" stroke="#fff" stroke-width="1.0" stroke-linecap="round" stroke-linejoin="round"/>
<path d="M556.5,224.0 C556.8,226.0 558.9,232.0 558.5,236.0 C558.1,240.0 556.5,244.2 554.1,248.0 C551.8,251.8 547.0,255.8 544.1,259.0 C541.2,262.2 538.0,265.7 536.8,267.0" fill="none" stroke="#000" stroke-width="3.3" stroke-linecap="round" stroke-linejoin="round"/>
<path d="M556.5,224.0 C556.8,226.0 558.9,232.0 558.5,236.0 C558.1,240.0 556.5,244.2 554.1,248.0 C551.8,251.8 547.0,255.8 544.1,259.0 C541.2,262.2 538.0,265.7 536.8,267.0" fill="none" stroke="#fff" stroke-width="1.0" stroke-linecap="round" stroke-linejoin="round"/>
<path d="M524,265 L533,258.5 L539.5,266 L531,274 Z" fill="#fff" stroke="#000" stroke-width="2"/>
<path d="M520.5,263.5 L527,258.5 L530,263 L523.5,268.5 Z" fill="#000"/>
<path d="M529,263 L535,270" class="o" stroke-width="1.4"/>
<path d="M527.0,276.0 C524.2,276.5 515.5,278.1 510.0,279.0 C504.5,279.9 496.7,281.1 494.0,281.5" stroke="#000" fill="none" stroke-linejoin="round" stroke-linecap="round" stroke-width="1.3"/>
<path d="M537.5,279.0 C534.6,280.3 525.4,284.6 520.0,287.0 C514.6,289.4 508.8,291.8 505.0,293.5 C501.2,295.2 498.3,296.4 497.0,297.0" stroke="#000" fill="none" stroke-linejoin="round" stroke-linecap="round" stroke-width="1.3"/>
<path d="M523.5,290 L537,283.5 L549.5,286 L548,293.5 L534,297 Z" fill="#fff" stroke="#000" stroke-width="1.8" stroke-linejoin="round"/>
<path d="M527.5,291 L540,285 M531,293.5 L544,287 M535,295.5 L547,289.5 M534,288 L546,292 M530,290 L541,294.5" class="o" stroke-width="1.3"/>
<path d="M509.0,260.0 C509.5,258.7 510.3,253.8 512.0,252.0 C513.7,250.2 516.2,249.6 519.0,249.0 C521.8,248.4 527.3,248.6 529.0,248.5" class="o" stroke-width="1.4"/>
<path d="M515.0,263.0 C515.5,261.8 516.7,257.7 518.0,256.0 C519.3,254.3 520.8,253.6 523.0,253.0 C525.2,252.4 529.7,252.6 531.0,252.5" class="o" stroke-width="1.4"/>
<path d="M594,211 L608,208.5 L611,214 L610,221 L597,223.5 L593,218 Z" fill="#000"/>
<path d="M598,216.5 L607,215 L607,219 L598,220.5 Z" fill="#fff"/>
<path d="M567.0,246.0 C568.3,247.0 571.2,249.8 575.0,252.0 C578.8,254.2 584.2,256.6 590.0,259.0 C595.8,261.4 604.3,264.5 610.0,266.5 C615.7,268.5 619.7,270.4 624.0,271.0 C628.3,271.6 630.0,270.5 636.0,270.0 C642.0,269.5 653.0,268.5 660.0,268.0 C667.0,267.5 673.5,267.0 678.0,267.0 C682.5,267.0 684.7,267.0 687.0,268.0 C689.3,269.0 690.3,271.2 692.0,273.0 C693.7,274.8 696.2,278.0 697.0,279.0" fill="none" stroke="#000" stroke-width="3.4" stroke-linecap="round" stroke-linejoin="round"/>
<path d="M567.0,246.0 C568.3,247.0 571.2,249.8 575.0,252.0 C578.8,254.2 584.2,256.6 590.0,259.0 C595.8,261.4 604.3,264.5 610.0,266.5 C615.7,268.5 619.7,270.4 624.0,271.0 C628.3,271.6 630.0,270.5 636.0,270.0 C642.0,269.5 653.0,268.5 660.0,268.0 C667.0,267.5 673.5,267.0 678.0,267.0 C682.5,267.0 684.7,267.0 687.0,268.0 C689.3,269.0 690.3,271.2 692.0,273.0 C693.7,274.8 696.2,278.0 697.0,279.0" fill="none" stroke="#fff" stroke-width="1.1" stroke-linecap="round" stroke-linejoin="round"/>
<path d="M574.0,256.0 C576.7,257.1 585.7,260.6 590.0,262.5 C594.3,264.4 595.3,265.2 600.0,267.5 C604.7,269.8 612.0,273.3 618.0,276.0 C624.0,278.7 631.8,281.6 636.0,283.5 C640.2,285.4 641.8,286.8 643.0,287.5" stroke="#000" fill="none" stroke-linejoin="round" stroke-linecap="round" stroke-width="1.3"/>
<path d="M571.5,246 L577,244.5 L579,252 L573.5,254 Z" fill="#000"/>
<path d="M652.0,293.0 C655.8,292.9 667.5,292.7 675.0,292.5 C682.5,292.3 691.8,292.8 697.0,292.0 C702.2,291.2 703.9,290.0 706.0,288.0 C708.1,286.0 708.8,283.8 709.5,280.0 C710.2,276.2 710.1,270.3 710.0,265.0 C709.9,259.7 709.2,250.8 709.0,248.0" fill="none" stroke="#000" stroke-width="13" stroke-linecap="round" stroke-linejoin="round"/>
<path d="M652.0,293.0 C655.8,292.9 667.5,292.7 675.0,292.5 C682.5,292.3 691.8,292.8 697.0,292.0 C702.2,291.2 703.9,290.0 706.0,288.0 C708.1,286.0 708.8,283.8 709.5,280.0 C710.2,276.2 710.1,270.3 710.0,265.0 C709.9,259.7 709.2,250.8 709.0,248.0" fill="none" stroke="#fff" stroke-width="10" stroke-linecap="round" stroke-linejoin="round"/>
<path d="M698,252 L716,250" class="o" stroke-width="1.4"/>
<path d="M639.5,289 L659.5,287.5 L659.5,301 L640,301.5 C637,300 636.5,291 639.5,289 Z" fill="#fff" stroke="#000" stroke-width="1.6"/>
<path d="M637,293 L640,291 L641,302 L638,304 Z" fill="#000"/>
<path d="M697.0,279.0 C697.3,276.7 698.8,270.2 699.0,265.0 C699.2,259.8 698.6,250.8 698.5,248.0" fill="none" stroke="#000" stroke-width="4.5" stroke-linecap="round" stroke-linejoin="round"/>
<path d="M697.0,279.0 C697.3,276.7 698.8,270.2 699.0,265.0 C699.2,259.8 698.6,250.8 698.5,248.0" fill="none" stroke="#fff" stroke-width="1.6" stroke-linecap="round" stroke-linejoin="round"/>
<path d="M694.5,235 L716,235 L716.5,247.5 L700,248 L695,247 Z" fill="#000"/>
<path d="M703,239.5 L712,239 L712,244.5 L703,245 Z" fill="#fff"/>
<ellipse cx="698.5" cy="251" rx="3" ry="4" fill="#fff" stroke="#000" stroke-width="1.5"/>
<path d="M650.2,303.5 C650.2,305.9 650.2,315.6 650.2,318.0" stroke="#000" fill="none" stroke-linejoin="round" stroke-linecap="round" stroke-width="1.3"/>
<path d="M664.5,303.0 C663.2,304.7 659.2,310.2 657.0,313.0 C654.8,315.8 652.4,318.8 651.5,320.0" stroke="#000" fill="none" stroke-linejoin="round" stroke-linecap="round" stroke-width="1.3"/>
<path d="M585.0,331.0 C586.7,330.6 591.5,329.3 595.0,328.5 C598.5,327.7 602.3,327.0 606.0,326.0 C609.7,325.0 614.2,323.8 617.0,322.5 C619.8,321.2 621.7,319.8 623.0,318.5 C624.3,317.2 624.5,315.2 624.8,314.5" fill="none" stroke="#000" stroke-width="3" stroke-linecap="round" stroke-linejoin="round"/>
<path d="M585.0,331.0 C586.7,330.6 591.5,329.3 595.0,328.5 C598.5,327.7 602.3,327.0 606.0,326.0 C609.7,325.0 614.2,323.8 617.0,322.5 C619.8,321.2 621.7,319.8 623.0,318.5 C624.3,317.2 624.5,315.2 624.8,314.5" fill="none" stroke="#fff" stroke-width="1" stroke-linecap="round" stroke-linejoin="round"/>
<path d="M585,328.6 L590.5,328 L590.5,335 L585.5,335.5 Z" class="o" stroke-width="1.3"/>
<path d="M593.2,335.5 L593.2,352.5 M590,353 L603,352" class="o" stroke-width="1.3"/>
<path d="M559.9,344.5 L569.8,343 L563,348.4 Z" class="o" stroke-width="1.3"/>
<path d="M578.0,312.5 C578.8,313.1 581.6,314.6 583.0,316.0 C584.4,317.4 586.2,319.4 586.5,321.0 C586.8,322.6 585.2,324.8 585.0,325.5" class="o" stroke-width="1.3"/>
<path d="M589,302 L597,309 M592,300 L590,307 M601,298 L603,303 L600,308 M596,312 L604,305 M622,302 L624,306" class="o" stroke-width="1.2"/>
<path d="M563.5,272 L567,276 L572.5,273 M583.5,275 L588,277.5 L594,276 M552.6,287.5 L559.9,289 M549,300 L544,306 L542,313" class="o" stroke-width="1.2"/>
<path d="M620,283 L624,290 M607,296 L612,291 M571,290 L576,295 M612,325 L606,330 M632,305 L637,312" class="o" stroke-width="1.1"/>
<path d="M520,318 L526,322 L530,330 M498,320 L508,324" class="o" stroke-width="1.1"/>
<path d="M452,212.5 L474,204.5 L476,209.5 L454,218 Z" fill="#000"/>
<path d="M457,215 L460,208.5 M462,213.5 L465,206.5 M467,211.5 L470,205" class="o" stroke="#fff" stroke-width="1.2"/>
<path d="M476,203.5 L484,200.5 L486,205 L478,208 Z" fill="#000"/>
<path d="M430.0,263.0 C431.8,262.4 438.2,260.2 441.0,259.5 C443.8,258.8 446.0,258.7 447.0,258.5" stroke="#000" fill="none" stroke-linejoin="round" stroke-linecap="round" stroke-width="1.4"/>
<path d="M437,262 L432.5,272 L441,262.5" class="o" stroke-width="1.3"/>
<path d="M421.0,266.5 C420.2,267.2 417.2,269.2 416.0,271.0 C414.8,272.8 414.0,275.2 414.0,277.0 C414.0,278.8 415.7,280.8 416.0,281.5" class="o" stroke-width="1.3"/>
<path d="M413,271 L416,272 M413,277 L416,277" class="o" stroke-width="1.1"/>
<path d="M461,231 L466,228 L468,233 M463,240 L470,236" class="o" stroke-width="1.2"/>
<path d="M466.0,224.0 C466.7,223.5 468.7,221.3 470.0,221.0 C471.3,220.7 473.2,221.2 474.0,222.0 C474.8,222.8 474.8,225.3 475.0,226.0" class="o" stroke-width="1.2"/>
<path d="M486,262 L492,257 M489,266 L495,262 M484,274 L488,280 L493,276" class="o" stroke-width="1.2"/>
<path d="M452,283 L456,276 M459,285 L463,279" class="o" stroke-width="1.1"/>
<path d="M570,237 L588,228 L590.5,241 L600.5,226.5 M572,240.5 L600,241.5 M601,243 L610,233.5 M604,245.5 L613,236.5" class="o" stroke-width="1.4"/>
<path d="M574,246 L575,253 M572,249.5 L577.5,249" class="o" stroke-width="1.6"/>
<path d="M388,300h1v1h-1zM388,299h1v1h-1zM396,299h1v1h-1zM387,295h1v1h-1zM388,294h1v1h-1zM387,292h1v1h-1zM389,291h1v1h-1zM388,286h1v1h-1zM385,280h1v1h-1zM399,279h1v1h-1zM398,274h1v1h-1zM398,268h1v1h-1zM387,267h1v1h-1zM388,266h1v1h-1zM397,264h1v1h-1zM397,263h1v1h-1zM388,262h1v1h-1zM396,259h1v1h-1zM392,253h1v1h-1zM398,258h1v1h-1zM393,251h1v1h-1zM395,249h1v1h-1zM400,257h1v1h-1zM397,248h1v1h-1zM404,255h1v1h-1zM407,257h1v1h-1zM404,245h1v1h-1zM405,246h1v1h-1zM407,246h1v1h-1zM412,254h1v1h-1zM416,253h1v1h-1zM415,242h1v1h-1zM424,250h1v1h-1zM429,248h1v1h-1zM427,237h1v1h-1zM429,231h1v1h-1zM431,226h1v1h-1zM433,225h1v1h-1zM440,219h1v1h-1zM442,216h1v1h-1zM445,212h1v1h-1zM447,213h1v1h-1zM448,211h1v1h-1zM455,209h1v1h-1zM456,209h1v1h-1zM457,209h1v1h-1zM463,219h1v1h-1zM461,207h1v1h-1zM466,215h1v1h-1zM464,206h1v1h-1zM465,204h1v1h-1zM468,205h1v1h-1zM477,212h1v1h-1zM478,212h1v1h-1zM478,210h1v1h-1zM480,213h1v1h-1zM476,200h1v1h-1zM484,208h1v1h-1zM481,200h1v1h-1zM484,200h1v1h-1zM488,208h1v1h-1zM487,198h1v1h-1zM490,196h1v1h-1zM497,202h1v1h-1zM497,202h1v1h-1zM498,202h1v1h-1zM500,204h1v1h-1zM500,201h1v1h-1zM500,192h1v1h-1zM501,192h1v1h-1zM505,203h1v1h-1zM506,191h1v1h-1zM505,208h1v1h-1zM500,207h1v1h-1zM500,208h1v1h-1zM498,209h1v1h-1zM490,200h1v1h-1zM488,199h1v1h-1zM483,206h1v1h-1zM481,208h1v1h-1zM479,211h1v1h-1zM479,215h1v1h-1zM489,221h1v1h-1zM478,220h1v1h-1zM474,225h1v1h-1zM475,229h1v1h-1zM475,231h1v1h-1zM476,234h1v1h-1zM474,234h1v1h-1zM488,237h1v1h-1zM476,237h1v1h-1zM473,241h1v1h-1zM472,244h1v1h-1zM470,244h1v1h-1zM477,256h1v1h-1zM467,245h1v1h-1zM473,256h1v1h-1zM466,250h1v1h-1zM471,258h1v1h-1zM471,261h1v1h-1zM463,250h1v1h-1zM462,252h1v1h-1zM460,250h1v1h-1zM466,262h1v1h-1zM463,266h1v1h-1zM460,269h1v1h-1zM457,269h1v1h-1zM445,266h1v1h-1zM443,266h1v1h-1zM443,268h1v1h-1zM452,276h1v1h-1zM451,278h1v1h-1zM441,271h1v1h-1zM436,275h1v1h-1zM446,285h1v1h-1zM433,282h1v1h-1zM432,282h1v1h-1zM432,284h1v1h-1zM430,285h1v1h-1zM429,286h1v1h-1zM427,286h1v1h-1zM436,295h1v1h-1zM427,291h1v1h-1zM425,291h1v1h-1zM434,304h1v1h-1zM422,299h1v1h-1zM419,300h1v1h-1zM420,303h1v1h-1zM487,199h1v1h-1zM486,192h1v1h-1zM490,199h1v1h-1zM491,198h1v1h-1zM495,198h1v1h-1zM496,196h1v1h-1zM494,189h1v1h-1zM501,196h1v1h-1zM502,196h1v1h-1zM501,190h1v1h-1zM502,190h1v1h-1zM506,195h1v1h-1zM506,194h1v1h-1zM511,194h1v1h-1zM512,195h1v1h-1zM515,193h1v1h-1zM517,196h1v1h-1zM518,193h1v1h-1zM520,195h1v1h-1zM522,194h1v1h-1zM522,192h1v1h-1zM522,186h1v1h-1zM525,191h1v1h-1zM526,187h1v1h-1zM547,194h1v1h-1zM557,189h1v1h-1zM558,189h1v1h-1zM560,189h1v1h-1zM559,196h1v1h-1zM560,196h1v1h-1zM561,197h1v1h-1zM566,197h1v1h-1zM569,193h1v1h-1zM571,194h1v1h-1zM573,194h1v1h-1zM570,202h1v1h-1zM571,207h1v1h-1zM578,201h1v1h-1zM578,201h1v1h-1zM576,207h1v1h-1zM581,202h1v1h-1zM583,205h1v1h-1zM582,212h1v1h-1zM501,213h1v1h-1zM508,214h1v1h-1zM506,212h1v1h-1zM501,209h1v1h-1zM506,210h1v1h-1zM507,209h1v1h-1zM501,205h1v1h-1zM508,207h1v1h-1zM510,208h1v1h-1zM506,201h1v1h-1zM507,201h1v1h-1zM508,199h1v1h-1zM510,198h1v1h-1zM516,204h1v1h-1zM517,205h1v1h-1zM517,197h1v1h-1zM522,204h1v1h-1zM523,195h1v1h-1zM525,196h1v1h-1zM526,204h1v1h-1zM531,197h1v1h-1zM533,198h1v1h-1zM534,198h1v1h-1zM536,198h1v1h-1zM538,199h1v1h-1zM539,196h1v1h-1zM541,198h1v1h-1zM547,199h1v1h-1zM548,203h1v1h-1zM549,205h1v1h-1zM552,198h1v1h-1zM552,203h1v1h-1zM554,196h1v1h-1zM554,205h1v1h-1zM555,205h1v1h-1zM556,206h1v1h-1zM561,201h1v1h-1zM561,205h1v1h-1zM564,199h1v1h-1zM563,206h1v1h-1zM567,200h1v1h-1zM567,201h1v1h-1zM563,209h1v1h-1zM567,208h1v1h-1zM570,206h1v1h-1zM572,208h1v1h-1zM575,210h1v1h-1zM575,214h1v1h-1zM572,215h1v1h-1zM571,217h1v1h-1zM577,221h1v1h-1zM575,224h1v1h-1zM576,225h1v1h-1zM575,226h1v1h-1zM568,225h1v1h-1zM569,228h1v1h-1zM571,231h1v1h-1zM566,228h1v1h-1zM565,230h1v1h-1zM569,236h1v1h-1zM566,236h1v1h-1zM562,231h1v1h-1zM565,238h1v1h-1zM563,238h1v1h-1zM563,239h1v1h-1zM560,243h1v1h-1zM555,235h1v1h-1zM553,235h1v1h-1zM555,242h1v1h-1zM550,236h1v1h-1zM547,242h1v1h-1zM546,243h1v1h-1zM545,244h1v1h-1zM542,237h1v1h-1zM541,237h1v1h-1zM540,245h1v1h-1zM539,237h1v1h-1zM538,246h1v1h-1zM537,238h1v1h-1zM535,245h1v1h-1zM530,245h1v1h-1zM529,237h1v1h-1zM528,237h1v1h-1zM527,237h1v1h-1zM527,237h1v1h-1zM524,239h1v1h-1zM524,236h1v1h-1zM521,239h1v1h-1zM518,244h1v1h-1zM512,242h1v1h-1zM511,240h1v1h-1zM509,240h1v1h-1zM511,233h1v1h-1zM507,238h1v1h-1zM510,230h1v1h-1zM504,234h1v1h-1zM503,233h1v1h-1zM504,231h1v1h-1zM506,228h1v1h-1zM501,230h1v1h-1zM508,224h1v1h-1zM508,223h1v1h-1zM501,223h1v1h-1zM508,217h1v1h-1zM498,215h1v1h-1zM508,215h1v1h-1zM566,248h1v1h-1zM566,249h1v1h-1zM566,250h1v1h-1zM567,250h1v1h-1zM574,248h1v1h-1zM575,255h1v1h-1zM577,258h1v1h-1zM578,259h1v1h-1zM581,260h1v1h-1zM587,254h1v1h-1zM590,254h1v1h-1zM592,256h1v1h-1zM593,255h1v1h-1zM593,267h1v1h-1zM601,260h1v1h-1zM600,266h1v1h-1zM602,269h1v1h-1zM606,262h1v1h-1zM608,261h1v1h-1zM606,271h1v1h-1zM608,272h1v1h-1zM614,265h1v1h-1zM615,263h1v1h-1zM613,271h1v1h-1zM617,264h1v1h-1zM619,264h1v1h-1zM620,265h1v1h-1zM619,272h1v1h-1zM620,273h1v1h-1zM623,276h1v1h-1zM624,275h1v1h-1zM627,265h1v1h-1zM633,275h1v1h-1zM633,274h1v1h-1zM634,276h1v1h-1zM635,266h1v1h-1zM637,266h1v1h-1zM639,267h1v1h-1zM641,272h1v1h-1zM641,265h1v1h-1zM643,275h1v1h-1zM645,273h1v1h-1zM646,265h1v1h-1zM648,273h1v1h-1zM648,264h1v1h-1zM653,274h1v1h-1zM653,271h1v1h-1zM655,265h1v1h-1zM655,265h1v1h-1zM659,274h1v1h-1zM658,262h1v1h-1zM663,271h1v1h-1zM664,271h1v1h-1zM666,264h1v1h-1zM669,271h1v1h-1zM671,263h1v1h-1zM673,261h1v1h-1zM675,263h1v1h-1zM676,273h1v1h-1zM679,272h1v1h-1zM682,264h1v1h-1zM684,264h1v1h-1zM687,264h1v1h-1zM686,274h1v1h-1zM689,276h1v1h-1zM697,273h1v1h-1zM699,275h1v1h-1zM701,275h1v1h-1zM652,295h1v1h-1zM652,290h1v1h-1zM653,298h1v1h-1zM654,297h1v1h-1zM657,288h1v1h-1zM658,289h1v1h-1zM660,296h1v1h-1zM660,296h1v1h-1zM662,296h1v1h-1zM665,296h1v1h-1zM666,296h1v1h-1zM669,289h1v1h-1zM672,297h1v1h-1zM673,296h1v1h-1zM674,289h1v1h-1zM675,296h1v1h-1zM676,295h1v1h-1zM677,298h1v1h-1zM679,296h1v1h-1zM679,295h1v1h-1zM683,295h1v1h-1zM685,291h1v1h-1zM685,294h1v1h-1zM688,298h1v1h-1zM689,295h1v1h-1zM692,290h1v1h-1zM692,287h1v1h-1zM695,296h1v1h-1zM696,297h1v1h-1zM696,290h1v1h-1zM697,294h1v1h-1zM698,287h1v1h-1zM699,290h1v1h-1zM704,294h1v1h-1zM701,286h1v1h-1zM701,285h1v1h-1zM709,293h1v1h-1zM709,291h1v1h-1zM710,290h1v1h-1zM710,288h1v1h-1zM705,284h1v1h-1zM705,282h1v1h-1zM704,280h1v1h-1zM705,280h1v1h-1zM713,280h1v1h-1zM707,278h1v1h-1zM705,274h1v1h-1zM707,274h1v1h-1zM714,273h1v1h-1zM705,271h1v1h-1zM714,270h1v1h-1zM707,267h1v1h-1zM705,266h1v1h-1zM715,265h1v1h-1zM707,264h1v1h-1zM708,263h1v1h-1zM706,261h1v1h-1zM714,259h1v1h-1zM715,257h1v1h-1zM705,256h1v1h-1zM714,254h1v1h-1zM706,254h1v1h-1zM715,252h1v1h-1zM705,251h1v1h-1zM707,249h1v1h-1zM662,302h1v1h-1zM660,303h1v1h-1zM660,304h1v1h-1zM663,309h1v1h-1zM656,308h1v1h-1zM660,313h1v1h-1zM659,313h1v1h-1zM654,312h1v1h-1zM653,313h1v1h-1zM651,315h1v1h-1zM650,318h1v1h-1zM651,322h1v1h-1zM645,322h1v1h-1zM643,323h1v1h-1zM646,329h1v1h-1zM642,335h1v1h-1zM637,333h1v1h-1zM411,306h1v1h-1zM413,308h1v1h-1zM414,307h1v1h-1zM414,313h1v1h-1zM422,310h1v1h-1zM422,317h1v1h-1zM426,312h1v1h-1zM427,318h1v1h-1zM431,315h1v1h-1zM431,319h1v1h-1zM442,320h1v1h-1zM448,322h1v1h-1zM447,327h1v1h-1zM452,325h1v1h-1zM454,331h1v1h-1zM456,326h1v1h-1zM486,294h1v1h-1zM484,295h1v1h-1zM479,293h1v1h-1zM475,288h1v1h-1zM474,289h1v1h-1zM475,292h1v1h-1zM474,293h1v1h-1zM479,299h1v1h-1zM476,299h1v1h-1zM470,299h1v1h-1zM476,303h1v1h-1zM476,303h1v1h-1zM476,308h1v1h-1zM478,310h1v1h-1zM476,322h1v1h-1zM480,325h1v1h-1zM483,329h1v1h-1zM489,322h1v1h-1zM493,333h1v1h-1zM496,330h1v1h-1zM501,329h1v1h-1zM503,333h1v1h-1zM504,333h1v1h-1zM508,340h1v1h-1zM412,293h1v1h-1zM410,288h1v1h-1zM413,283h1v1h-1zM419,289h1v1h-1zM419,288h1v1h-1zM420,287h1v1h-1zM422,287h1v1h-1zM422,280h1v1h-1zM424,279h1v1h-1zM431,288h1v1h-1zM434,280h1v1h-1zM436,288h1v1h-1zM437,287h1v1h-1zM438,288h1v1h-1zM441,282h1v1h-1zM444,283h1v1h-1zM444,290h1v1h-1zM449,291h1v1h-1zM452,286h1v1h-1zM452,290h1v1h-1zM455,291h1v1h-1zM456,286h1v1h-1zM458,285h1v1h-1zM459,291h1v1h-1zM461,287h1v1h-1zM468,286h1v1h-1zM469,288h1v1h-1zM467,295h1v1h-1zM469,295h1v1h-1zM475,289h1v1h-1zM477,288h1v1h-1zM603,210h1v1h-1zM609,219h1v1h-1zM610,219h1v1h-1zM618,216h1v1h-1zM622,226h1v1h-1zM625,226h1v1h-1zM645,231h1v1h-1zM646,238h1v1h-1zM650,236h1v1h-1zM653,243h1v1h-1zM652,245h1v1h-1zM661,245h1v1h-1zM658,254h1v1h-1zM661,257h1v1h-1zM662,259h1v1h-1zM663,264h1v1h-1zM668,263h1v1h-1zM670,266h1v1h-1zM664,268h1v1h-1zM664,270h1v1h-1zM663,271h1v1h-1zM665,279h1v1h-1zM538,226h1v1h-1zM535,229h1v1h-1zM552,226h1v1h-1zM538,231h1v1h-1zM536,234h1v1h-1zM555,234h1v1h-1zM554,236h1v1h-1zM539,236h1v1h-1zM555,239h1v1h-1zM552,240h1v1h-1zM536,238h1v1h-1zM536,240h1v1h-1zM550,249h1v1h-1zM537,246h1v1h-1zM547,254h1v1h-1zM549,256h1v1h-1zM546,259h1v1h-1zM532,252h1v1h-1zM532,254h1v1h-1zM543,264h1v1h-1zM528,258h1v1h-1zM528,260h1v1h-1zM540,270h1v1h-1zM537,270h1v1h-1zM539,272h1v1h-1zM536,271h1v1h-1zM560,201h1v1h-1zM561,200h1v1h-1zM562,201h1v1h-1zM569,202h1v1h-1zM575,202h1v1h-1zM575,203h1v1h-1zM576,204h1v1h-1zM579,208h1v1h-1zM573,214h1v1h-1zM572,214h1v1h-1zM582,215h1v1h-1zM581,217h1v1h-1zM575,216h1v1h-1zM579,219h1v1h-1zM572,217h1v1h-1zM571,218h1v1h-1zM566,221h1v1h-1zM562,224h1v1h-1zM569,231h1v1h-1zM560,229h1v1h-1zM560,233h1v1h-1zM559,233h1v1h-1zM556,234h1v1h-1zM565,239h1v1h-1zM558,238h1v1h-1zM564,241h1v1h-1zM394,259h1v1h-1zM395,257h1v1h-1zM402,254h1v1h-1zM404,255h1v1h-1zM405,254h1v1h-1zM413,250h1v1h-1zM423,245h1v1h-1zM429,244h1v1h-1zM430,242h1v1h-1zM431,240h1v1h-1zM438,232h1v1h-1zM440,228h1v1h-1zM441,227h1v1h-1zM444,223h1v1h-1zM446,221h1v1h-1zM448,220h1v1h-1zM453,216h1v1h-1zM456,216h1v1h-1zM456,215h1v1h-1zM457,214h1v1h-1zM459,215h1v1h-1zM465,213h1v1h-1zM476,207h1v1h-1zM479,207h1v1h-1zM486,203h1v1h-1zM486,203h1v1h-1zM368,269h1v1h-1zM369,270h1v1h-1zM378,275h1v1h-1zM382,276h1v1h-1zM369,280h1v1h-1zM384,287h1v1h-1zM373,290h1v1h-1zM385,299h1v1h-1zM382,303h1v1h-1zM383,305h1v1h-1zM384,306h1v1h-1zM372,308h1v1h-1z" fill="#000"/>
</svg></body></html>
